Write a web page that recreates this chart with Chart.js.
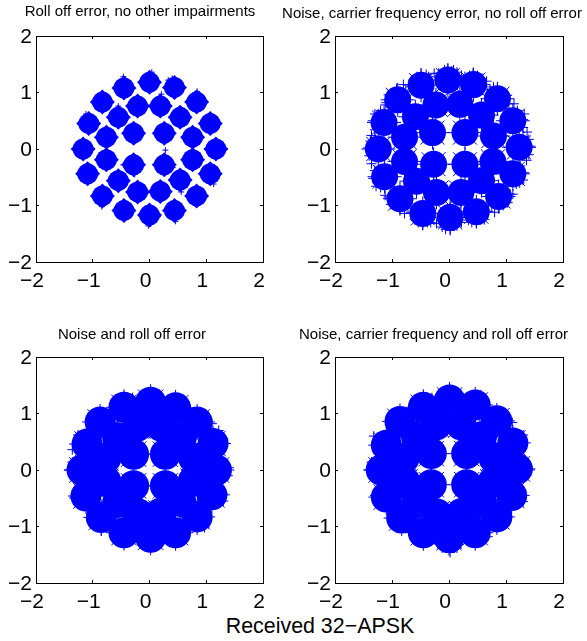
<!DOCTYPE html>
<html>
<head>
<meta charset="utf-8">
<style>
  html, body { margin: 0; padding: 0; background: #fff; }
  #page { position: relative; width: 587px; height: 641px; overflow: hidden; }
  .panel { position: absolute; }
  #figLabel { position: absolute; left: 170px; width: 300px; top: 614px; text-align: center;
    font: 21.4px "Liberation Sans", Arial, sans-serif; color: #000; }
</style>
<script src="https://cdn.jsdelivr.net/npm/chart.js@4"></script>
</head>
<body>
<div id="page">
  <div id="figLabel">Received 32−APSK</div>
</div>
<script>
const titles = [
  'Roll off error, no other impairments',
  'Noise, carrier frequency error, no roll off error',
  'Noise and roll off error',
  'Noise, carrier frequency and roll off error'
];
const axisTicks = [-2, -1, 0, 1, 2];

// cluster centres: outer ring, middle ring, inner ring
const rollOffX = [0, .44, .83, 1.07, 1.17, 1.07, .83, .44, 0, -.45, -.83, -1.09, -1.17, -1.07, -.83, -.45,
  .19, .54, .76, .76, .54, .19, -.21, -.55, -.76, -.76, -.55, -.21, .26, .26, -.28, -.28];
const rollOffY = [1.18, 1.09, .83, .45, 0, -.44, -.83, -1.09, -1.17, -1.09, -.83, -.44, 0, .45, .83, 1.08,
  .76, .56, .21, -.19, -.55, -.75, -.76, -.56, -.19, .21, .56, .76, .28, -.28, -.28, .28];
const rollOffLooseX = [.33, .4, -.46, .41, .52, .04, .15, -.02, -1.31, 1.33, -.46, .46, .84, -.84, -1.12, 1.13, .02, .28, -.26, .56, -.55, .21];
const rollOffLooseY = [1.22, 1.25, -.28, -.33, -.42, 1.36, -1.2, -1.36, 0, 0, 1.28, -1.28, 1.02, -1.02, .62, -.62, -1.33, -.02, -.45, -.76, .76, .97];

const noiseFreqX = [-.02, .43, .85, 1.12, 1.23, 1.12, .87, .48, .02, -.46, -.86, -1.13, -1.24, -1.14, -.9, -.49,
  .19, .57, .78, .77, .57, .21, -.22, -.57, -.78, -.78, -.59, -.23, .28, .28, -.27, -.29];
const noiseFreqY = [1.22, 1.14, .89, .5, .03, -.44, -.84, -1.11, -1.21, -1.14, -.88, -.49, 0, .47, .87, 1.13,
  .79, .6, .23, -.22, -.56, -.77, -.77, -.57, -.22, .21, .57, .78, .29, -.27, -.27, .29];
const noiseFreqLooseX = [-.02, -.18, .14, .05, .42, .58, .28, .6, .85, 1.02, 1.05, .72, 1.3, 1.3, 1.2, 1.32,
  1.43, 1.4, 1.4, 1.3, 1.32, 1.3, 1.25, 1.18, 1.03, 1.07, .88, .75, .48, .62, .34, .68,
  .02, .14, -.12, .05, -.46, -.32, -.6, -.67, -.86, -1.02, -1.06, -.72, -1.33, -1.28, -1.3, -1.2,
  -1.42, -1.4, -1.38, -1.3, -1.34, -1.3, -1.3, -1.2, -.92, -1.06, -.76, -1.1, -.49, -.63, -.36, -.68,
  -.08, .08, .22, .36, .5, .66, .78, .93, 1.14, 1.24, 1.37, 1.36, 1.24, 1.12, .95, .8, .56, .4, .22, -.06, -.22, -.38, -.54, -.78, -.94, -1.12, -1.24, -1.36, -1.36, -1.24, -1.12, -.96, -.8, -.56, -.4, -.26];
const noiseFreqLooseY = [1.42, 1.34, 1.36, 1.38, 1.34, 1.25, 1.28, 1.1, 1.08, .95, .8, 1.05, .52, .38, .68, .62,
  .05, -.1, .17, .22, -.42, -.55, -.3, -.62, -.95, -.8, -1.05, -1, -1.3, -1.25, -1.26, -1.1,
  -1.44, -1.36, -1.38, -1.3, -1.34, -1.3, -1.25, -1.12, -1.07, -.98, -.85, -1.02, -.52, -.66, -.38, -.68,
  .02, -.12, .14, .2, .5, .62, .34, .68, 1.07, .96, 1.02, .82, 1.34, 1.22, 1.28, 1.1,
  1.4, 1.4, 1.3, 1.3, 1.3, 1.2, 1.1, .98, .8, .6, .3, -.2, -.6, -.8, -1, -1.12, -1.25, -1.3, -1.3, -1.42, -1.32, -1.3, -1.3, -1.14, -.98, -.82, -.6, -.26, .24, .62, .78, .98, 1.14, 1.28, 1.32, 1.34];

const noiseRollX = [.02, .46, .84, 1.12, 1.18, 1.1, .84, .46, .02, -.45, -.85, -1.12, -1.19, -1.1, -.87, -.45,
  .2, .56, .78, .77, .55, .2, -.21, -.56, -.77, -.77, -.56, -.21, .28, .28, -.28, -.28];
const noiseRollY = [1.2, 1.1, .85, .47, 0, -.44, -.83, -1.11, -1.19, -1.11, -.84, -.46, 0, .46, .85, 1.11,
  .78, .57, .21, -.2, -.56, -.76, -.77, -.57, -.2, .21, .57, .78, .28, -.28, -.28, .28];
const noiseRollLooseX = [.02, -.1, .12, .46, .58, .84, 1, 1.3, 1.33, 1.22, 1.4, 1.38, 1.29, 1.3, 1, .97, .46, .6, .02, -.12, .12,
  -.45, -.58, -.85, -1, -1.32, -1.36, -1.26, -1.42, -1.36, -1.34, -1.32, -1, -.94, -.45, -.58, -.3, 1.1, -.85, .6];
const noiseRollLooseY = [1.39, 1.33, 1.32, 1.28, 1.2, 1.02, .9, .55, .47, .7, .04, -.1, -.42, -.55, -.88, -1.02, -1.3, -1.2, -1.38, -1.33, -1.32,
  -1.3, -1.2, -1.02, -.92, -.48, .36, .62, 0, .14, -.1, -.5, .9, 1.02, 1.3, 1.18, 1.28, .82, -1.08, 1.12];

const allErrX = [.01, .46, .84, 1.12, 1.2, 1.1, .84, .46, 0, -.45, -.83, -1.1, -1.19, -1.1, -.86, -.45,
  .21, .57, .79, .77, .57, .22, -.21, -.57, -.77, -.79, -.57, -.22, .31, .31, -.31, -.31];
const allErrY = [1.24, 1.15, .87, .48, .02, -.45, -.83, -1.11, -1.2, -1.11, -.85, -.48, 0, .44, .86, 1.11,
  .8, .59, .21, -.21, -.58, -.77, -.78, -.58, -.21, .21, .58, .8, .29, -.26, -.26, .29];
const allErrLooseX = [.01, -.12, .14, .5, .56, .6, .84, 1, 1.11, 1.28, 1.3, 1.38, 1.42, 1.27, 1.3, .98, .98, .56, .02, .14, -.12,
  -.45, -.58, -.84, -.98, -1.28, -1.3, -1.36, -1.4, -1.28, -1.32, -.98, -.9, -.45, -.6, -.3, .42, .82, -.68, .68];
const allErrLooseY = [1.44, 1.36, 1.36, 1.33, 1.33, 1.24, 1.04, .92, .84, .5, .62, .05, 0, -.45, -.56, -.92, -.78, -1.28, -1.46, -1.38, -1.38,
  -1.3, -1.2, -1.02, -.92, -.5, -.45, .14, 0, .48, .6, .9, 1.04, 1.3, 1.18, 1.28, 1.3, 1.03, 1.05, -1.18];

function toPoints(xs, ys) {
  return xs.map((x, i) => ({ x: x, y: ys[i] }));
}

function makeAxis(position, height, width, showLabels) {
  const isX = position === 'bottom' || position === 'top';
  return {
    type: 'linear',
    position: position,
    axis: isX ? 'x' : 'y',
    min: -2,
    max: 2,
    afterBuildTicks: s => { s.ticks = axisTicks.map(v => ({ value: v })); },
    afterFit: s => {
      if (isX) s.height = height; else s.width = width;
      // the edge labels would otherwise shrink the plot box
      s.paddingLeft = s.paddingRight = s.paddingTop = s.paddingBottom = 0;
    },
    grid: { drawOnChartArea: false, tickLength: -3, color: '#000', lineWidth: 1 },
    border: { color: '#000', width: 1 },
    ticks: {
      display: showLabels,
      color: '#000',
      font: { family: '"Liberation Sans", Arial, sans-serif', size: 21 },
      padding: isX ? 10 : 7,
      maxRotation: 0,
      autoSkip: false,
      labelOffset: isX ? -4 : 1,
      callback: v => String(v).replace('-', '−')
    }
  };
}

// left, top, width, height of each canvas; yw/rw/xh are axis sizes that pin the plot box
const panels = [
  { left: 0, top: 0, w: 280, h: 302, yw: 36, rw: 17, xh: 40, titleTop: 3, cx: rollOffX, cy: rollOffY, lx: rollOffLooseX, ly: rollOffLooseY, r: 10.5, tip: 12.5, tipWidth: 0, lr: 3 },
  { left: 277, top: 0, w: 310, h: 302, yw: 58, rw: 24, xh: 40, titleTop: 5, cx: noiseFreqX, cy: noiseFreqY, lx: noiseFreqLooseX, ly: noiseFreqLooseY, r: 13.5, tip: 17, tipWidth: 1, lr: 5 },
  { left: 0, top: 321, w: 264, h: 302, yw: 36, rw: 1, xh: 40, titleTop: 5, cx: noiseRollX, cy: noiseRollY, lx: noiseRollLooseX, ly: noiseRollLooseY, r: 15.5, tip: 18, tipWidth: 1, lr: 5 },
  { left: 280, top: 321, w: 307, h: 302, yw: 55, rw: 24, xh: 40, titleTop: 5, cx: allErrX, cy: allErrY, lx: allErrLooseX, ly: allErrLooseY, r: 15.5, tip: 18, tipWidth: 1, lr: 5 }
];

panels.forEach((p, i) => {
  const box = document.createElement('div');
  box.className = 'panel';
  box.style.cssText = `left:${p.left}px;top:${p.top}px;width:${p.w}px;height:${p.h}px`;
  const canvas = document.createElement('canvas');
  box.appendChild(canvas);
  document.getElementById('page').appendChild(box);

  const centres = toPoints(p.cx, p.cy);
  new Chart(canvas, {
    type: 'scatter',
    data: {
      datasets: [
        { data: centres, pointStyle: 'circle', pointRadius: p.r, backgroundColor: '#0000ff', borderWidth: 0 },
        { data: centres, pointStyle: i === 0 ? 'rectRot' : 'star', pointRadius: p.tip, backgroundColor: '#0000ff', borderColor: '#0000ff', borderWidth: p.tipWidth },
        { data: toPoints(p.lx, p.ly), pointStyle: 'cross', pointRadius: p.lr, borderColor: '#0000ff', backgroundColor: '#0000ff', borderWidth: 1 }
      ]
    },
    options: {
      responsive: true,
      maintainAspectRatio: false,
      animation: false,
      layout: { padding: 0, autoPadding: false },
      plugins: {
        legend: { display: false },
        tooltip: { enabled: false },
        title: {
          display: true,
          text: titles[i],
          color: '#000',
          font: { family: '"Liberation Sans", Arial, sans-serif', size: 15, weight: 'normal', lineHeight: 1.2 },
          padding: { top: p.titleTop, bottom: 36 - 18 - p.titleTop }
        }
      },
      scales: {
        x: makeAxis('bottom', p.xh, 0, true),
        y: makeAxis('left', 0, p.yw, true),
        x2: makeAxis('top', 0, 0, false),
        y2: makeAxis('right', 0, p.rw, false)
      }
    }
  });
});
</script>
</body>
</html>
